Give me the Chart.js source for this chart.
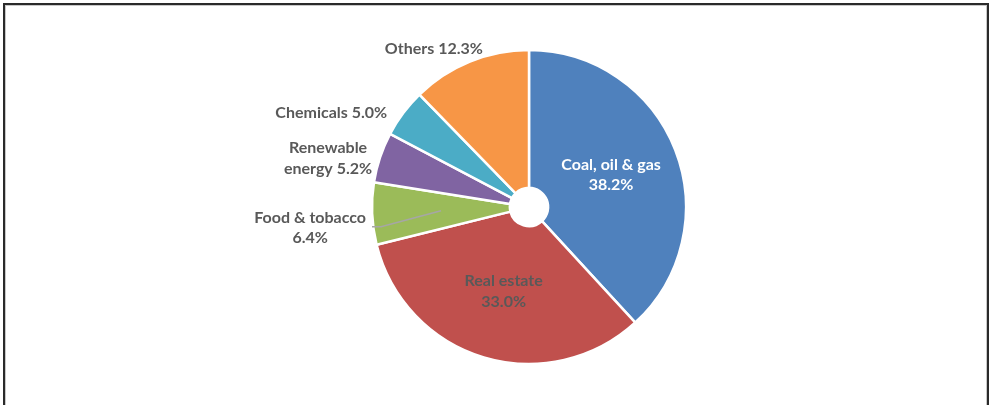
<!DOCTYPE html>
<html>
<head>
<meta charset="utf-8">
<script src="https://cdn.jsdelivr.net/npm/chart.js@4/dist/chart.umd.min.js"></script>
<style>
  html, body { margin: 0; padding: 0; background: #fff; }
  .wrap { position: relative; width: 992px; height: 405px; overflow: hidden; }
  .frame {
    position: absolute; left: 3px; top: 3px; width: 982px; height: 420px;
    border: 2px solid #2a2a2a; border-bottom: none;
    box-shadow: inset 1px 1px 0 #c8c8c8, inset -1px 0 0 #c8c8c8;
  }
  canvas { position: absolute; left: 0; top: 0; }
</style>
</head>
<body>
<div class="wrap">
  <div class="frame"></div>
  <canvas id="sectorChart" width="992" height="405"></canvas>
</div>
<script>
const categories = ["Coal, oil & gas", "Real estate", "Food & tobacco", "Renewable energy", "Chemicals", "Others"];
const shares = [38.2, 33.0, 6.4, 5.2, 5.0, 12.3];
const sliceColors = ["#4f81bd", "#c0504d", "#9bbb59", "#8064a2", "#4bacc6", "#f79646"];

// how each label is laid out: inside the slice, or outside next to its rim
const labelLayout = [
  { inside: true, color: "#ffffff", mode: "stack" },
  { inside: true, color: "#595959", mode: "stack" },
  { inside: false, color: "#595959", mode: "stack", dx: -62, dy: 14, leader: true },
  { inside: false, color: "#595959", mode: "wrap", dx: -52, dy: 1 },
  { inside: false, color: "#595959", mode: "line", dx: -72, dy: 0 },
  { inside: false, color: "#595959", mode: "line", dx: -36, dy: -13 },
];

const FONT = "bold 16px Lato, 'Open Sans', sans-serif";
const LINE_H = 20.5;

const labelLines = (i) => {
  const name = categories[i];
  const pct = shares[i].toFixed(1) + "%";
  const mode = labelLayout[i].mode;
  if (mode === "stack") return [name, pct];
  if (mode === "wrap") {
    const cut = name.indexOf(" ");
    return [name.slice(0, cut), name.slice(cut + 1) + " " + pct];
  }
  return [name + " " + pct];
};

const sliceLabels = {
  id: "sliceLabels",
  afterDatasetsDraw(chart) {
    const { ctx } = chart;
    const arcs = chart.getDatasetMeta(0).data;
    ctx.save();
    ctx.font = FONT;
    ctx.textAlign = "center";
    ctx.textBaseline = "middle";
    arcs.forEach((arc, i) => {
      const cfg = labelLayout[i];
      const lines = labelLines(i);
      const inner = arc.tooltipPosition();
      let cx, cy;
      if (cfg.inside) {
        cx = inner.x;
        cy = inner.y;
      } else {
        const mid = (arc.startAngle + arc.endAngle) / 2;
        cx = arc.x + Math.cos(mid) * arc.outerRadius + cfg.dx;
        cy = arc.y + Math.sin(mid) * arc.outerRadius + cfg.dy;
      }
      if (cfg.leader) {
        const w = Math.max(...lines.map((l) => ctx.measureText(l).width));
        const sx = cx + w / 2 + 6;
        const sy = cy - 1;
        ctx.strokeStyle = "#a6a6a6";
        ctx.lineWidth = 1.5;
        ctx.beginPath();
        ctx.moveTo(sx, sy);
        ctx.lineTo(sx + 9, sy);
        ctx.lineTo(inner.x, inner.y);
        ctx.stroke();
      }
      ctx.fillStyle = cfg.color;
      const top = cy - ((lines.length - 1) * LINE_H) / 2;
      lines.forEach((line, k) => ctx.fillText(line, cx, top + k * LINE_H));
    });
    ctx.restore();
  },
};

new Chart(document.getElementById("sectorChart"), {
  type: "doughnut",
  data: {
    labels: categories,
    datasets: [
      {
        data: shares,
        backgroundColor: sliceColors,
        borderColor: "#ffffff",
        borderWidth: 2.5,
      },
    ],
  },
  options: {
    responsive: false,
    animation: false,
    events: [],
    radius: 157,
    cutout: 24,
    layout: { padding: { left: 66, top: 9, right: 0, bottom: 0 } },
    plugins: {
      legend: { display: false },
      tooltip: { enabled: false },
    },
  },
  plugins: [sliceLabels],
});
</script>
</body>
</html>
